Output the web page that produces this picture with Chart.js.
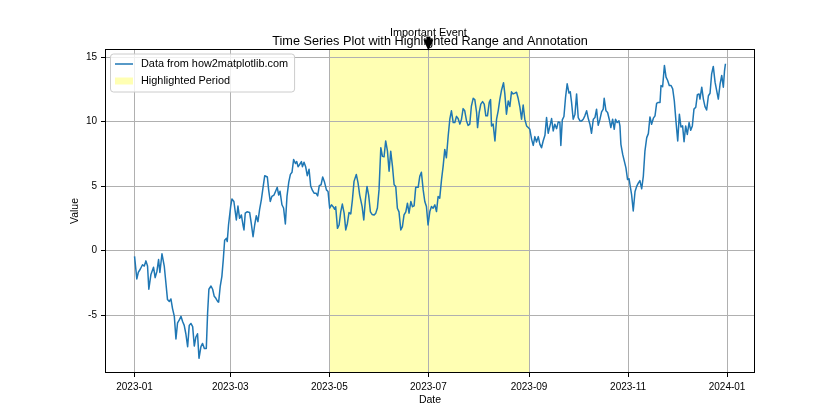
<!DOCTYPE html>
<html lang="en">
<head>
  <meta charset="UTF-8">
  <title>Time Series Plot with Highlighted Range and Annotation</title>
  <script src="https://cdn.jsdelivr.net/npm/chart.js@4.4.0/dist/chart.umd.min.js"></script>
  <style>
    body { margin: 0; background: #fff; }
  </style>
</head>
<body>
  <canvas id="myChart" width="840" height="420"></canvas>
  <script>
    // days since 2023-01-01
    const dayOffsets = [
      0, 1.4, 2.3, 3.5, 4.9, 6.0, 7.0, 8.0, 8.8, 10.1, 11.7, 12.7, 13.8, 14.8, 15.6, 16.9, 18.3, 19.3, 20.3, 21.4,
      22.4, 23.4, 24.5, 25.5, 26.5, 27.5, 28.6, 29.6, 30.6, 31.6, 32.7, 33.7, 34.7, 35.8, 36.8, 37.8, 38.8, 39.7, 40.9, 41.9,
      43.0, 44.2, 45.0, 45.8, 47.1, 48.1, 49.1, 50.1, 51.2, 51.8, 52.8, 53.8, 54.7,
      55.5, 56.5, 57.1, 57.9, 59.2, 60.0, 61.2, 62.7, 63.7, 64.7, 65.8, 66.8, 67.4, 68.2, 69.3, 70.9, 71.9, 73.0, 74.0, 75.0,
      76.0, 77.0, 78.1, 79.1, 80.2, 81.8, 82.6, 83.6, 84.6, 85.9, 86.9, 87.9, 88.8, 89.6, 90.8, 91.8, 92.9, 93.9, 95.0, 96.0,
      97.0, 98.0, 99.1, 99.9, 100.7, 101.7, 102.8, 103.4, 104.4, 105.4, 106.4, 107.5, 108.5, 109.6, 110.6, 111.8, 112.8, 113.8, 114.9, 115.9,
      116.9,
      118.2, 119.2, 120.2, 121.3, 122.3, 123.3, 123.9, 125.0, 126.0, 127.0, 128.0, 129.1, 130.1, 131.1, 132.1, 133.2, 134.2, 135.2, 136.6, 137.7,
      138.7, 140.2, 141.2, 142.2, 143.2, 144.2, 145.3, 146.3, 147.6, 148.6, 149.6, 150.6, 151.7, 152.7, 153.7, 154.7, 155.8, 156.8, 157.8, 158.9,
      159.9, 160.9, 161.9, 162.9, 164.0, 165.0, 166.0, 167.1, 168.1, 169.1, 170.2, 171.2, 172.2, 173.2, 174.7, 175.7, 176.7, 177.8, 178.8,
      179.8, 180.8, 181.9, 182.9, 183.9, 185.0, 186.0, 187.0, 188.0, 189.1, 190.1, 191.1, 192.1, 193.2, 194.2, 195.2, 196.3, 197.3, 198.3, 199.3,
      200.4, 201.4, 202.4, 203.4, 204.5, 205.5, 206.5, 207.5, 208.6, 209.6, 210.7, 211.3, 212.3, 213.3, 214.4, 215.4, 216.4, 217.4, 218.5, 219.3,
      219.9, 220.9, 222.0, 223.0, 224.0, 225.0, 226.0, 227.3, 228.1, 229.1, 230.2, 231.2, 232.2, 233.2, 234.3, 235.3, 236.3, 237.4, 238.4, 239.4,
      240.4, 241.5, 242.5, 243.5, 244.6, 245.6, 246.6, 247.6, 248.7, 249.7, 250.7, 251.7, 252.8, 253.8, 254.8, 255.9, 256.9, 257.9, 258.9, 260.0,
      261.0, 262.0, 262.6, 263.5, 264.5, 265.5, 266.5, 267.6, 268.4, 269.2, 270.2, 271.3, 272.3, 273.3, 274.4, 275.4, 276.4, 277.4, 278.5, 279.5,
      280.5, 281.5, 282.6, 283.6, 284.6, 285.6, 286.7, 287.7, 288.7, 289.3, 290.4, 291.4, 292.4, 293.4, 294.5, 295.5, 296.3, 297.3, 298.4,
      299.0, 299.6, 300.7, 301.7, 302.7, 303.7, 304.6, 305.2, 306.2, 307.2, 308.3, 309.3, 310.3, 311.3, 312.4, 313.4, 314.4, 315.5, 316.5, 317.5,
      318.5, 319.6, 320.6, 321.6, 322.6, 323.7, 324.3, 325.3, 326.4, 327.4, 328.4, 329.4, 330.5, 331.5, 332.5, 333.5, 334.6, 335.6, 336.6, 337.6,
      338.5, 339.5, 340.5, 341.6, 342.6, 343.6, 344.6, 345.7, 346.7, 347.7, 348.3, 349.4, 350.4, 351.4, 352.4, 353.5, 354.5, 355.5, 356.5, 357.6,
      358.6, 359.6, 360.7, 361.7, 362.7, 363.4, 364.0
    ]
    const values = [
      -0.45, -2.2, -1.7, -1.45, -1.1, -1.2, -0.8, -1.2, -3.0, -1.85, -1.3, -2.1, -1.6, -0.7, -1.7, -0.25, -1.2, -2.5, -3.8, -3.95,
      -3.75, -4.5, -5.1, -6.85, -5.6, -5.4, -5.1, -5.5, -5.8, -6.45, -7.45, -5.8, -5.65, -5.9, -7.4, -6.7, -6.45, -8.35, -7.45, -7.2,
      -7.6, -7.6, -4.85, -3.0, -2.75, -3.0, -3.55, -3.7, -3.95, -4.0, -2.75, -2.0, -0.65,
      0.8, 0.94, 0.7, 2.0, 3.4, 4.0, 3.8, 2.37, 3.45, 2.5, 2.76, 1.98, 1.6, 2.9, 3.0, 2.95, 2.1, 1.07, 1.98, 2.7,
      2.24, 3.15, 3.93, 4.84, 5.8, 5.7, 4.7, 3.8, 4.2, 4.3, 4.6, 4.9, 4.3, 4.6, 3.55, 3.3, 2.06, 4.2, 5.3, 5.9,
      6.07, 7.06, 6.75, 6.9, 6.5, 6.67, 6.9, 6.5, 6.85, 6.5, 5.8, 6.3, 5.0, 4.66, 4.45, 4.45, 4.24, 5.03, 5.1, 5.7,
      5.36,
      4.7, 4.58, 3.28, 3.54, 3.4, 3.2, 3.4, 1.72, 1.98, 3.0, 3.6, 2.9, 1.6, 2.1, 2.94, 2.84, 3.93, 5.36, 5.9, 5.23,
      4.3, 3.4, 2.37, 3.93, 4.97, 4.3, 3.0, 2.8, 2.76, 2.9, 3.3, 4.7, 7.97, 7.3, 7.27, 8.5, 7.7, 6.15, 7.7, 6.5,
      5.1, 4.97, 3.28, 3.0, 1.6, 1.85, 2.76, 3.0, 3.67, 2.9, 3.8, 3.4, 3.46, 4.9, 4.9, 5.75, 6.07, 4.7, 3.8,
      3.41, 1.98, 3.02, 3.41, 3.28, 3.54, 3.02, 4.19, 4.06, 5.5, 6.54, 7.84, 7.19, 8.88, 10.18, 10.83, 9.92, 9.92, 10.4, 10.23,
      9.8, 10.18, 11.0, 10.83, 10.05, 9.7, 9.8, 11.2, 11.8, 11.7, 10.7, 9.53, 10.7, 11.35, 11.54, 11.35, 10.44, 10.44, 11.48, 11.7,
      9.66, 9.8, 8.49, 10.18, 10.83, 11.7, 12.4, 13.0, 12.14, 10.57, 11.6, 11.17, 12.3, 12.14, 12.2, 12.27, 11.8, 11.1, 10.18, 11.28,
      10.18, 9.66, 9.53, 9.4, 8.62, 8.15, 8.83, 8.41, 8.83, 8.23, 7.97, 8.49, 8.93, 10.31, 9.09, 9.66, 10.23, 9.27, 9.79, 9.45,
      9.97, 9.92, 8.15, 10.13, 10.39, 11.88, 12.92, 12.21, 12.3, 11.48, 10.18, 10.57, 12.14, 10.31, 10.05, 10.05, 10.18, 10.44, 10.83, 10.23,
      9.79, 9.09, 10.18, 10.31, 10.96, 9.71, 10.18, 10.75, 10.96, 11.8, 10.83, 10.7, 10.18, 9.53, 10.18, 9.4, 10.18, 9.92, 10.05,
      9.66, 8.23, 7.45, 6.93, 6.41, 5.5, 5.57, 5.1, 4.32, 3.07, 4.58, 4.97, 5.23, 5.42, 4.79, 5.75, 7.71, 8.75, 9.06, 10.36,
      9.79, 10.26, 10.44, 11.4, 11.48, 11.48, 12.79, 12.7, 14.35, 13.44, 13.18, 12.79, 12.79, 12.53, 11.6, 10.05, 8.49, 10.57, 9.58, 9.66,
      8.44, 9.66, 9.0, 9.92, 9.32, 9.66, 10.96, 11.1, 12.08, 12.14, 11.74, 12.66, 11.74, 11.15, 10.89, 12.0, 12.19, 13.7, 14.27, 13.05,
      12.4, 11.74, 12.92, 13.57, 12.66, 13.9, 14.48
    ]

    const monthTicks = [0, 59, 120, 181, 243, 304, 365]
    const monthLabels = ['2023-01', '2023-03', '2023-05', '2023-07', '2023-09', '2023-11', '2024-01']
    const valueTicks = [-5, 0, 5, 10, 15]
    const highlightRange = [120, 243]   // 2023-05-01 .. 2023-09-01
    const eventDay = 181                // 2023-07-01
    const eventValue = 15.5
    const eventLabel = 'Important Event'
    const chartTitle = 'Time Series Plot with Highlighted Range and Annotation'

    const lineColor = '#1f77b4'
    const spanColor = '#ffffb3'
    const fontFamily = "'Liberation Sans', Arial, sans-serif"

    // matplotlib style 5% margins
    const xMin = Math.min(...dayOffsets), xMax = Math.max(...dayOffsets)
    const yMin = Math.min(...values), yMax = Math.max(...values)
    const xPad = (xMax - xMin) * 0.05
    const yPad = (yMax - yMin) * 0.05

    const points = dayOffsets.map((d, i) => ({ x: d, y: values[i] }))

    Chart.defaults.font.family = fontFamily
    Chart.defaults.font.size = 10
    Chart.defaults.color = '#000'

    const decorations = {
      id: 'decorations',
      beforeDraw(chart) {
        const { ctx, chartArea: a, scales: { x } } = chart
        ctx.save()
        ctx.fillStyle = '#fff'
        ctx.fillRect(0, 0, chart.width, chart.height)
        const x0 = x.getPixelForValue(highlightRange[0])
        const x1 = x.getPixelForValue(highlightRange[1])
        ctx.fillStyle = spanColor
        ctx.fillRect(x0, a.top, x1 - x0, a.bottom - a.top)
        ctx.restore()
      },
      afterDraw(chart) {
        const { ctx, chartArea: a, scales: { x, y } } = chart
        ctx.save()

        // axes frame
        ctx.strokeStyle = '#000'
        ctx.lineWidth = 1
        ctx.strokeRect(Math.round(a.left) + 0.5, Math.round(a.top) + 0.5,
          Math.round(a.right - a.left) - 1, Math.round(a.bottom - a.top) - 1)

        // title, centred on the plot area
        ctx.fillStyle = '#000'
        ctx.font = '12.7px ' + fontFamily
        ctx.textAlign = 'center'
        ctx.textBaseline = 'middle'
        ctx.fillText(chartTitle, (a.left + a.right) / 2, a.top - 8)

        // legend
        ctx.font = '10.9px ' + fontFamily
        const labels = [chart.data.datasets[0].label, 'Highlighted Period']
        const w = Math.max(...labels.map(t => ctx.measureText(t).width)) + 37
        const lx = a.left + 5, ly = a.top + 4.5, lh = 38
        ctx.beginPath()
        if (ctx.roundRect) ctx.roundRect(lx + 0.5, ly + 0.5, w, lh, 3)
        else ctx.rect(lx + 0.5, ly + 0.5, w, lh)
        ctx.fillStyle = 'rgba(255,255,255,0.8)'
        ctx.fill()
        ctx.strokeStyle = '#cccccc'
        ctx.lineWidth = 1
        ctx.stroke()

        ctx.strokeStyle = lineColor
        ctx.lineWidth = 1.5
        ctx.beginPath()
        ctx.moveTo(lx + 5, ly + 10.5)
        ctx.lineTo(lx + 23, ly + 10.5)
        ctx.stroke()
        ctx.fillStyle = spanColor
        ctx.fillRect(lx + 5, ly + 24, 18, 7)

        ctx.fillStyle = '#000'
        ctx.textAlign = 'left'
        ctx.fillText(labels[0], lx + 31, ly + 10.5)
        ctx.fillText(labels[1], lx + 31, ly + 27.5)

        // annotation arrow + text
        const ax = x.getPixelForValue(eventDay)
        const tip = y.getPixelForValue(eventValue)
        ctx.fillRect(ax - 2, tip - 14, 4, 4)
        ctx.beginPath()
        ctx.moveTo(ax, tip)
        ctx.lineTo(ax - 5, tip - 11)
        ctx.lineTo(ax + 5, tip - 11)
        ctx.closePath()
        ctx.fill()
        ctx.textAlign = 'center'
        ctx.fillText(eventLabel, ax, tip - 18)

        ctx.restore()
      }
    }

    const gridStyle = {
      color: '#b0b0b0',
      lineWidth: 1,
      tickColor: '#000',
      tickLength: 4,
      tickWidth: 1
    }

    const ctx = document.getElementById('myChart').getContext('2d')
    const myChart = new Chart(ctx, {
      type: 'line',
      data: {
        datasets: [{
          label: 'Data from how2matplotlib.com',
          data: points,
          borderColor: lineColor,
          backgroundColor: lineColor,
          borderWidth: 1.5,
          borderJoinStyle: 'round',
          pointRadius: 0,
          tension: 0,
          fill: false
        }]
      },
      options: {
        responsive: false,
        animation: false,
        events: [],
        layout: { padding: { left: 0, right: 85, top: 49, bottom: 0 } },
        plugins: {
          legend: { display: false },
          tooltip: { enabled: false },
          title: { display: false }
        },
        scales: {
          x: {
            type: 'linear',
            min: xMin - xPad,
            max: xMax + xPad,
            afterBuildTicks: s => { s.ticks = monthTicks.map(v => ({ value: v })) },
            afterFit: s => { s.height = 47 },
            ticks: {
              autoSkip: false,
              maxRotation: 0,
              padding: 4,
              callback: v => monthLabels[monthTicks.indexOf(v)]
            },
            grid: gridStyle,
            border: { display: false },
            title: { display: true, text: 'Date', font: { size: 10.5 }, padding: { top: 0, bottom: 13.5 } }
          },
          y: {
            type: 'linear',
            min: yMin - yPad,
            max: yMax + yPad,
            afterBuildTicks: s => { s.ticks = valueTicks.map(v => ({ value: v })) },
            afterFit: s => { s.width = 105 },
            ticks: {
              padding: 4,
              callback: v => String(v)
            },
            grid: gridStyle,
            border: { display: false },
            title: { display: true, text: 'Value', font: { size: 10.5 }, padding: { top: 69, bottom: 0 } }
          }
        }
      },
      plugins: [decorations]
    })
  </script>
</body>
</html>
